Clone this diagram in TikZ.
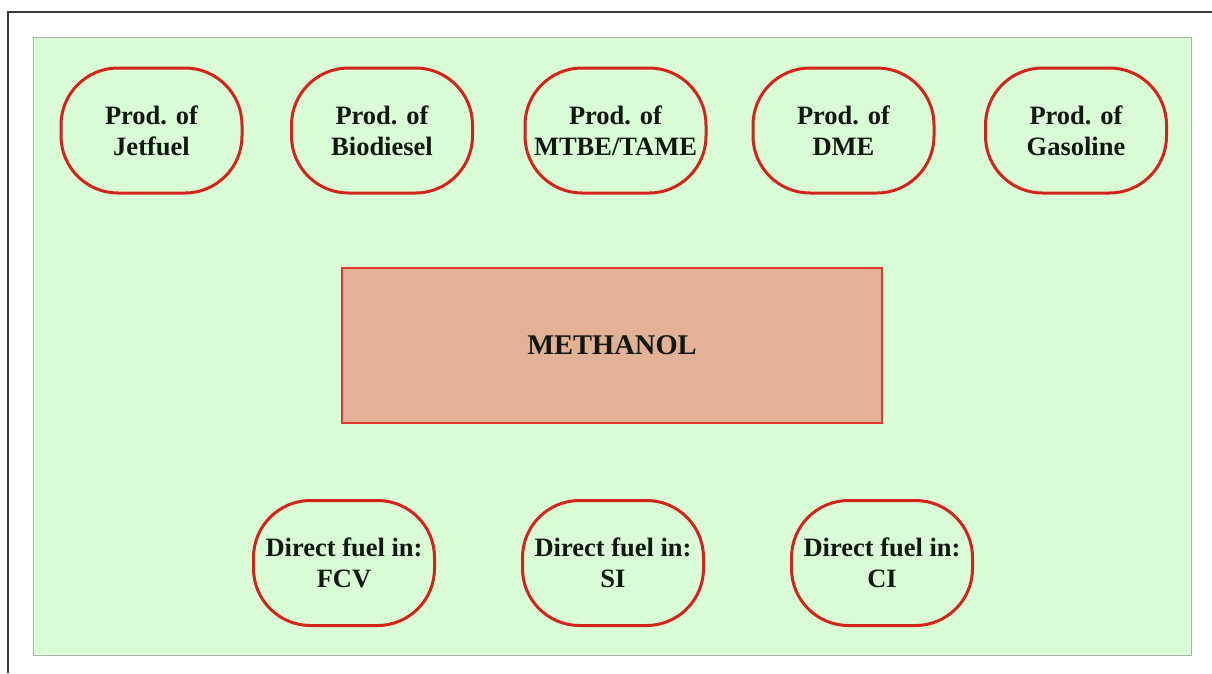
\documentclass[tikz,border=0pt]{standalone}
\usepackage{fontspec}
\setmainfont{Liberation Serif}
\definecolor{panelgreen}{HTML}{D9FCD6}
\definecolor{panelborder}{HTML}{A9B2A9}
\definecolor{ovalred}{HTML}{D3241B}
\definecolor{boxfill}{HTML}{E3B196}
\definecolor{boxred}{HTML}{E0362C}
\definecolor{frame}{HTML}{3A3A3A}
\definecolor{ink}{HTML}{101810}
\tikzset{
  oval/.style={draw=ovalred, line width=3pt, rounded corners=57pt,
    minimum width=181pt, minimum height=125pt, align=center, inner sep=0pt,
    font=\bfseries\fontsize{26.5}{31}\selectfont, text=ink},
  mainbox/.style={draw=boxred, fill=boxfill, line width=1.8pt,
    minimum width=540pt, minimum height=155pt, inner sep=0pt,
    font=\bfseries\fontsize{28.5}{32}\selectfont, text=ink},
}
\begin{document}
\begin{tikzpicture}[x=1pt,y=-1pt]
\useasboundingbox (0,0) rectangle (1212,673);
\fill[white] (0,0) rectangle (1212,673);
\draw[frame, line width=1.5pt] (1212,12) -- (8,12) -- (8,673);
\draw[panelborder, fill=panelgreen, line width=1pt] (33,37.5) rectangle (1191.5,655);
\node[oval] (jet) at (151.5,130.5) {Prod. of\\Jetfuel};
\node[oval] (bio) at (382,130.5) {Prod. of\\Biodiesel};
\node[oval] (mtbe) at (615.5,130.5) {Prod. of\\MTBE/TAME};
\node[oval] (dme) at (843.5,130.5) {Prod. of\\DME};
\node[oval] (gas) at (1076,130.5) {Prod. of\\Gasoline};
\node[mainbox] (meth) at (612,345.5) {METHANOL};
\node[oval] (fcv) at (344,563) {Direct fuel in:\\FCV};
\node[oval] (si) at (613,563) {Direct fuel in:\\SI};
\node[oval] (ci) at (882,563) {Direct fuel in:\\CI};
\end{tikzpicture}
\end{document}
